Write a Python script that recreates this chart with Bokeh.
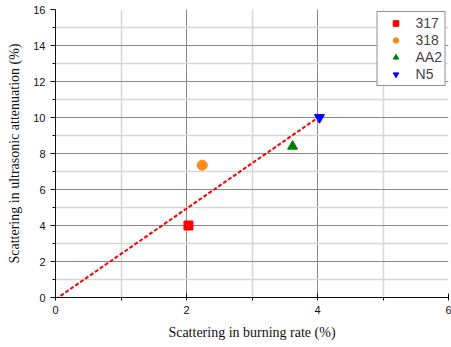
from bokeh.plotting import figure
from bokeh.models import Range1d, FixedTicker, Legend, LegendItem
from bokeh.embed import file_html
from bokeh.resources import INLINE

# data
names = ["317", "318", "AA2", "N5"]
burn = [2.03, 2.24, 3.62, 4.03]
atten = [4.0, 7.35, 8.4, 10.0]
colors = ["#ff0000", "#ff8c1a", "#008000", "#0000ff"]
markers = ["square", "circle", "triangle", "inverted_triangle"]
sizes = [9, 10, 10, 10]
fit_x = [0.0, 4.03]
fit_y = [-0.1, 10.05]
x_ticks = [0, 2, 4, 6]
x_minor = [1, 3, 5]
y_ticks = [0, 2, 4, 6, 8, 10, 12, 14, 16]
y_minor = [1, 3, 5, 7, 9, 11, 13, 15]

p = figure(width=451, height=347, output_backend="svg", toolbar_location=None,
           x_range=Range1d(0, 6), y_range=Range1d(0, 16),
           min_border_left=55, min_border_right=3, min_border_top=9, min_border_bottom=50)
p.outline_line_color = None

p.line(fit_x, fit_y, line_color="#ff0000", line_width=2, line_dash="4 2")

items = []
for n, x, y, c, m, s in zip(names, burn, atten, colors, markers, sizes):
    r = p.scatter([x], [y], marker=m, size=s, fill_color=c, line_color=c)
    items.append(LegendItem(label=n, renderers=[r]))

leg = Legend(items=items, location="top_right", margin=2, padding=3,
             label_text_font="Liberation Sans", label_text_font_size="14px",
             label_height=14, glyph_height=14, glyph_width=30, spacing=1,
             label_standoff=5, border_line_color="#222222", border_line_width=1,
             background_fill_color="white", background_fill_alpha=1)
p.add_layout(leg)

p.xaxis.ticker = FixedTicker(ticks=x_ticks, minor_ticks=x_minor)
p.yaxis.ticker = FixedTicker(ticks=y_ticks, minor_ticks=y_minor)
p.xgrid.ticker = FixedTicker(ticks=[2, 4], minor_ticks=x_minor)
p.ygrid.ticker = FixedTicker(ticks=[2, 4, 6, 8, 10, 12, 14], minor_ticks=y_minor)

for g in (p.xgrid, p.ygrid):
    g.grid_line_color = "#8a8a8a"
    g.grid_line_width = 1
    g.minor_grid_line_color = "#d6d6d6"
    g.minor_grid_line_width = 1.5

p.xaxis.axis_label = "Scattering in burning rate (%)"
p.yaxis.axis_label = "Scattering in ultrasonic attenuation (%)"
for ax in (p.xaxis, p.yaxis):
    ax.axis_label_text_font = "Liberation Serif"
    ax.axis_label_text_font_size = "14px"
    ax.axis_label_text_font_style = "normal"
    ax.axis_label_text_color = "#111111"
    ax.axis_label_standoff = 8
    ax.major_label_text_font = "Liberation Sans"
    ax.major_label_text_font_size = "11px"
    ax.major_label_text_color = "#111111"
    ax.axis_line_color = "#111111"
    ax.major_tick_line_color = "#111111"
    ax.minor_tick_line_color = "#111111"
p.xaxis.major_tick_in = 4
p.xaxis.major_tick_out = 3
p.xaxis.minor_tick_in = 0
p.xaxis.minor_tick_out = 3
p.yaxis.major_tick_in = 0
p.yaxis.major_tick_out = 5
p.yaxis.minor_tick_in = 0
p.yaxis.minor_tick_out = 3

open("out.html", "w").write(file_html(p, INLINE))
